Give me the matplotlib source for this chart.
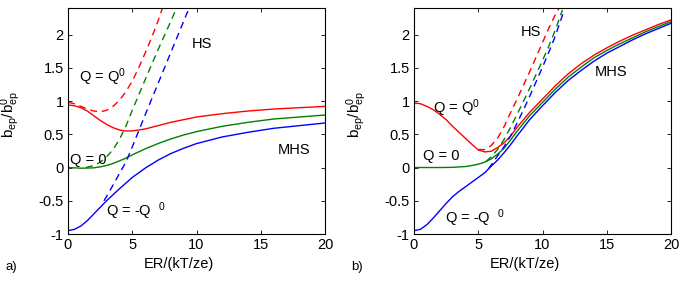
import numpy as np
import matplotlib
matplotlib.use('Agg')
import matplotlib.pyplot as plt

plt.rcParams['font.family'] = ['Liberation Sans', 'DejaVu Sans']
plt.rcParams['mathtext.default'] = 'regular'

# ---- panel a) ----
a_red_x  = [0, 0.5, 1, 1.5, 2, 2.5, 3, 3.5, 4, 4.5, 5, 6, 7, 8, 9, 10, 12, 14, 16, 18, 20]
a_red_y  = [0.94, 0.93, 0.90, 0.85, 0.78, 0.71, 0.65, 0.60, 0.565, 0.55, 0.55, 0.58, 0.63,
            0.68, 0.72, 0.76, 0.81, 0.85, 0.88, 0.90, 0.92]
a_redd_x = [0, 0.5, 1, 1.5, 2, 2.5, 3, 3.5, 4, 4.5, 5, 5.5, 6, 6.5, 7, 7.35]
a_redd_y = [0.98, 0.96, 0.92, 0.88, 0.85, 0.84, 0.86, 0.92, 1.01, 1.14, 1.30, 1.50, 1.72,
            1.95, 2.2, 2.4]
a_grn_x  = [0, 1, 2, 2.5, 3, 3.5, 4, 4.5, 5, 6, 7, 8, 9, 10, 12, 14, 16, 18, 20]
a_grn_y  = [0.0, -0.01, -0.005, 0.01, 0.03, 0.06, 0.1, 0.14, 0.19, 0.28, 0.36, 0.43, 0.49,
            0.54, 0.62, 0.68, 0.73, 0.76, 0.79]
a_grnd_x = [1.4, 2, 2.5, 3, 3.5, 4, 4.5, 5, 5.5, 6, 7, 8, 8.44]
a_grnd_y = [0.0, 0.03, 0.08, 0.16, 0.27, 0.42, 0.62, 0.86, 1.09, 1.32, 1.77, 2.2, 2.4]
a_blu_x  = [0, 0.5, 1, 1.5, 2, 2.5, 3, 3.5, 4, 5, 6, 7, 8, 9, 10, 12, 14, 16, 18, 20]
a_blu_y  = [-0.95, -0.93, -0.88, -0.8, -0.7, -0.6, -0.5, -0.41, -0.32, -0.15, -0.01, 0.11,
            0.21, 0.29, 0.36, 0.46, 0.53, 0.59, 0.63, 0.67]
a_blud_x = [2.8, 3.2, 3.6, 4, 4.5, 5, 5.5, 6, 7, 8, 9, 9.43]
a_blud_y = [-0.5, -0.37, -0.23, -0.09, 0.08, 0.31, 0.55, 0.79, 1.26, 1.73, 2.2, 2.4]

# ---- panel b) ----
b_red_x  = [0, 0.5, 1, 1.5, 2, 2.5, 3, 3.5, 4, 4.5, 5, 5.5, 6, 6.5, 7, 7.5, 8, 9, 10,
            11, 12, 13, 14, 15, 16, 17, 18, 19, 20]
b_red_y  = [0.97, 0.96, 0.92, 0.87, 0.80, 0.72, 0.62, 0.53, 0.44, 0.35, 0.265, 0.235, 0.245,
            0.3, 0.37, 0.47, 0.6, 0.83, 1.03, 1.23, 1.41, 1.56, 1.69, 1.8, 1.9, 1.99, 2.07,
            2.15, 2.22]
b_redd_x = [5.0, 5.5, 6, 6.5, 7, 7.5, 8, 8.5, 9, 9.5, 10, 10.5, 11, 11.3]
b_redd_y = [0.27, 0.27, 0.33, 0.44, 0.61, 0.82, 1.02, 1.23, 1.44, 1.66, 1.88, 2.1, 2.3, 2.4]
b_grn_x  = [0, 1, 2, 3, 4, 4.5, 5, 5.5, 6, 6.5, 7, 7.5, 8, 9, 10, 11, 12, 13, 14, 15,
            16, 17, 18, 19, 20]
b_grn_y  = [0, 0, 0, 0.003, 0.015, 0.03, 0.05, 0.08, 0.13, 0.2, 0.29, 0.41, 0.54, 0.78,
            0.98, 1.18, 1.36, 1.51, 1.65, 1.76, 1.86, 1.95, 2.04, 2.12, 2.195]
b_grnd_x = [5.6, 6, 6.5, 7, 7.5, 8, 8.5, 9, 9.5, 10, 10.5, 11, 11.55]
b_grnd_y = [0.09, 0.16, 0.27, 0.42, 0.6, 0.79, 0.99, 1.19, 1.4, 1.61, 1.83, 2.07, 2.37]
b_blu_x  = [0, 0.5, 1, 1.5, 2, 2.5, 3, 3.5, 4, 4.5, 5, 5.5, 6, 6.5, 7, 7.5, 8, 9, 10,
            11, 12, 13, 14, 15, 16, 17, 18, 19, 20]
b_blu_y  = [-0.95, -0.93, -0.86, -0.76, -0.65, -0.54, -0.44, -0.36, -0.29, -0.22, -0.15,
            -0.08, 0.02, 0.11, 0.22, 0.34, 0.47, 0.72, 0.93, 1.13, 1.31, 1.46, 1.6, 1.72,
            1.82, 1.92, 2.01, 2.09, 2.17]
b_blud_x = [5.8, 6.2, 6.6, 7, 7.5, 8, 8.5, 9, 9.5, 10, 10.5, 11, 11.62]
b_blud_y = [-0.02, 0.09, 0.2, 0.31, 0.47, 0.66, 0.86, 1.07, 1.29, 1.51, 1.74, 1.98, 2.33]

XTICKS = [0, 5, 10, 15, 20]
YTICKS = [-1, -0.5, 0, 0.5, 1, 1.5, 2]
YTICKLABELS = ['-1', '-0.5', '0', '0.5', '1', '1.5', '2']

RED, GRN, BLU = '#ff0000', '#008000', '#0000ff'
DASH = (5, 3.5)

fig = plt.figure(figsize=(6.92, 2.83), dpi=100)
ax_a = fig.add_axes([68 / 692, 1 - 234 / 283, 257 / 692, 226 / 283])
ax_b = fig.add_axes([414 / 692, 1 - 234 / 283, 257 / 692, 226 / 283])

panels = [
    (ax_a, [(a_red_x, a_red_y, a_redd_x, a_redd_y, RED),
            (a_grn_x, a_grn_y, a_grnd_x, a_grnd_y, GRN),
            (a_blu_x, a_blu_y, a_blud_x, a_blud_y, BLU)]),
    (ax_b, [(b_red_x, b_red_y, b_redd_x, b_redd_y, RED),
            (b_grn_x, b_grn_y, b_grnd_x, b_grnd_y, GRN),
            (b_blu_x, b_blu_y, b_blud_x, b_blud_y, BLU)]),
]

for ax, curves in panels:
    for sx, sy, dx, dy, c in curves:
        ax.plot(sx, sy, color=c, lw=1.0)
        ax.plot(dx, dy, color=c, lw=1.0, dashes=DASH)
    ax.set_xlim(0, 20)
    ax.set_ylim(-1, 2.4)
    ax.set_xticks(XTICKS)
    ax.set_yticks(YTICKS)
    ax.set_yticklabels(YTICKLABELS)
    ax.tick_params(direction='in', top=True, right=True, length=3, width=0.6,
                   labelsize=10.5, pad=3)
    for sp in ax.spines.values():
        sp.set_linewidth(0.8)
    ax.set_xlabel('ER/(kT/ze)', fontsize=10.5)
    ax.xaxis.set_label_coords(0.43, -0.1)
    ax.set_ylabel(r'$b_{ep}/b^0_{ep}$', fontsize=11)
    ax.yaxis.set_label_coords(-0.175, 0.53)

tk = dict(fontsize=10.5, va='center', ha='left')
ax_a.text(0.83, 1.36, r'Q = Q$^0$', **tk)
ax_a.text(0.15, 0.12, 'Q = 0', **tk)
ax_a.text(2.95, -0.66, r'Q = -Q  $^0$', **tk)
ax_a.text(9.6, 1.86, 'HS', **tk)
ax_a.text(16.3, 0.26, 'MHS', **tk)

ax_b.text(1.48, 0.9, r'Q = Q$^0$', **tk)
ax_b.text(0.7, 0.17, 'Q = 0', **tk)
ax_b.text(2.45, -0.76, r'Q = -Q  $^0$', **tk)
ax_b.text(8.3, 2.04, 'HS', **tk)
ax_b.text(14.1, 1.43, 'MHS', **tk)

fig.text(5 / 692, 1 - 267 / 283, 'a)', fontsize=9.5, va='center', ha='left')
fig.text(351 / 692, 1 - 267 / 283, 'b)', fontsize=9.5, va='center', ha='left')

fig.savefig('out.png', dpi=100)
